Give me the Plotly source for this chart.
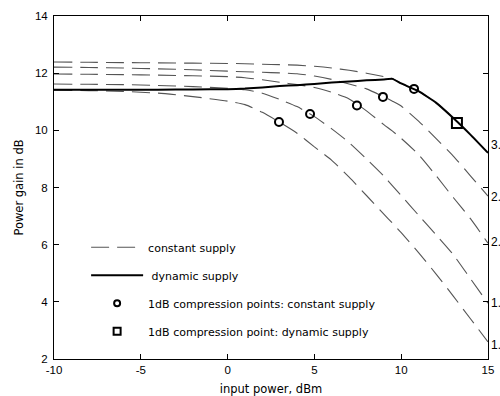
import plotly.graph_objects as go

# input power grid (dBm)
input_power = [-10, -8, -6, -4, -2, 0, 1, 2, 3, 4, 5, 6, 7, 8, 9, 9.5, 10, 11, 12, 13, 14, 15]

# constant-supply gain curves (dB), lowest to highest supply
gain_c1 = [11.40, 11.39, 11.36, 11.30, 11.18, 11.02, 10.90, 10.63, 10.28, 9.90, 9.42, 8.95, 8.36, 7.72, 7.07, 6.75, 6.42, 5.72, 4.98, 4.20, 3.40, 2.60]
gain_c2 = [11.62, 11.61, 11.60, 11.57, 11.53, 11.47, 11.42, 11.30, 11.08, 10.83, 10.48, 10.05, 9.57, 9.00, 8.40, 8.06, 7.72, 7.03, 6.35, 5.65, 4.80, 3.95]
gain_c3 = [11.97, 11.96, 11.95, 11.93, 11.91, 11.88, 11.84, 11.77, 11.68, 11.60, 11.50, 11.33, 11.10, 10.68, 10.20, 9.97, 9.72, 9.15, 8.42, 7.65, 6.90, 6.05]
gain_c4 = [12.21, 12.20, 12.18, 12.15, 12.12, 12.07, 12.05, 12.03, 12.01, 11.98, 11.90, 11.78, 11.62, 11.45, 11.17, 11.02, 10.85, 10.32, 9.72, 9.10, 8.40, 7.70]
gain_c5 = [12.39, 12.38, 12.37, 12.36, 12.35, 12.34, 12.33, 12.31, 12.30, 12.28, 12.24, 12.18, 12.10, 12.00, 11.88, 11.80, 11.64, 11.37, 10.97, 10.43, 9.84, 9.21]
constant_curves = [gain_c1, gain_c2, gain_c3, gain_c4, gain_c5]

# dynamic-supply gain (dB)
gain_dynamic = [11.42, 11.42, 11.42, 11.42, 11.43, 11.44, 11.46, 11.50, 11.55, 11.58, 11.62, 11.67, 11.71, 11.75, 11.78, 11.80, 11.64, 11.37, 10.97, 10.43, 9.84, 9.21]

# 1 dB compression points
comp_const_x = [2.96, 4.75, 7.45, 8.95, 10.74]
comp_const_y = [10.29, 10.57, 10.87, 11.17, 11.45]
comp_dyn_x = [13.21]
comp_dyn_y = [10.26]

# right-hand curve labels (clipped in the original)
side_labels = ["3.", "2.", "2.", "1.", "1."]
side_label_y = [9.49, 7.67, 6.09, 3.96, 2.49]

x_ticks = [-10, -5, 0, 5, 10, 15]
x_tick_text = ["-10", "-5", "0", "5", "10", "15"]
y_ticks = [2, 4, 6, 8, 10, 12, 14]

TXT = "DejaVu Sans"
TICKF = "Liberation Sans"

fig = go.Figure()

for i, g in enumerate(constant_curves):
    fig.add_trace(go.Scatter(
        x=input_power, y=g, mode="lines",
        line=dict(color="#555555", width=1.1, dash="18px,8px", shape="spline", smoothing=0.6),
        name="constant supply", showlegend=(i == 0), legendgroup="a",
    ))

fig.add_trace(go.Scatter(
    x=input_power, y=gain_dynamic, mode="lines",
    line=dict(color="black", width=2, shape="spline", smoothing=0.35),
    name=" dynamic supply", legendgroup="b",
))

fig.add_trace(go.Scatter(
    x=comp_const_x, y=comp_const_y, mode="markers",
    marker=dict(symbol="circle-open", size=8, color="black", line=dict(width=2, color="black")),
    name="1dB compression points: constant supply", legendgroup="c", showlegend=False,
))
fig.add_trace(go.Scatter(
    x=[None], y=[None], mode="markers",
    marker=dict(symbol="circle-open", size=6, color="black", line=dict(width=2, color="black")),
    name="1dB compression points: constant supply", legendgroup="c",
))

fig.add_trace(go.Scatter(
    x=comp_dyn_x, y=comp_dyn_y, mode="markers",
    marker=dict(symbol="square-open", size=10, color="black", line=dict(width=2, color="black")),
    name="1dB compression point: dynamic supply", legendgroup="d", showlegend=False,
))
fig.add_trace(go.Scatter(
    x=[None], y=[None], mode="markers",
    marker=dict(symbol="square-open", size=7, color="black", line=dict(width=2, color="black")),
    name="1dB compression point: dynamic supply", legendgroup="d",
))

for t, yv in zip(side_labels, side_label_y):
    fig.add_annotation(x=15, y=yv, xref="x", yref="y", text=t, showarrow=False,
                       xanchor="left", yanchor="middle", xshift=1,
                       font=dict(family=TICKF, size=12, color="black"))

axis_common = dict(
    showgrid=False, zeroline=False, showline=True, linecolor="black", linewidth=1,
    mirror="ticks", ticks="inside", ticklen=5, tickcolor="black", tickwidth=1,
    tickfont=dict(family=TICKF, size=11.5, color="black"), automargin=False,
)

fig.update_layout(
    width=500, height=396,
    margin=dict(l=54, r=12, t=16, b=37),
    paper_bgcolor="white", plot_bgcolor="white",
    xaxis=dict(range=[-10, 15], tickvals=x_ticks, ticktext=x_tick_text,
               title=dict(text="input power, dBm", font=dict(family=TXT, size=11.5, color="black"), standoff=12),
               **axis_common),
    yaxis=dict(range=[2, 14], tickvals=y_ticks, ticklabelstandoff=3,
               title=dict(text="Power gain in dB", font=dict(family=TXT, size=11.5, color="black"), standoff=8),
               **axis_common),
    legend=dict(x=0.074, y=0.368, xanchor="left", yanchor="top",
                bgcolor="rgba(0,0,0,0)", borderwidth=0,
                font=dict(family=TXT, size=11, color="black"),
                itemwidth=52, traceorder="grouped", tracegroupgap=9),
    showlegend=True,
)

fig.write_html("out.html")
